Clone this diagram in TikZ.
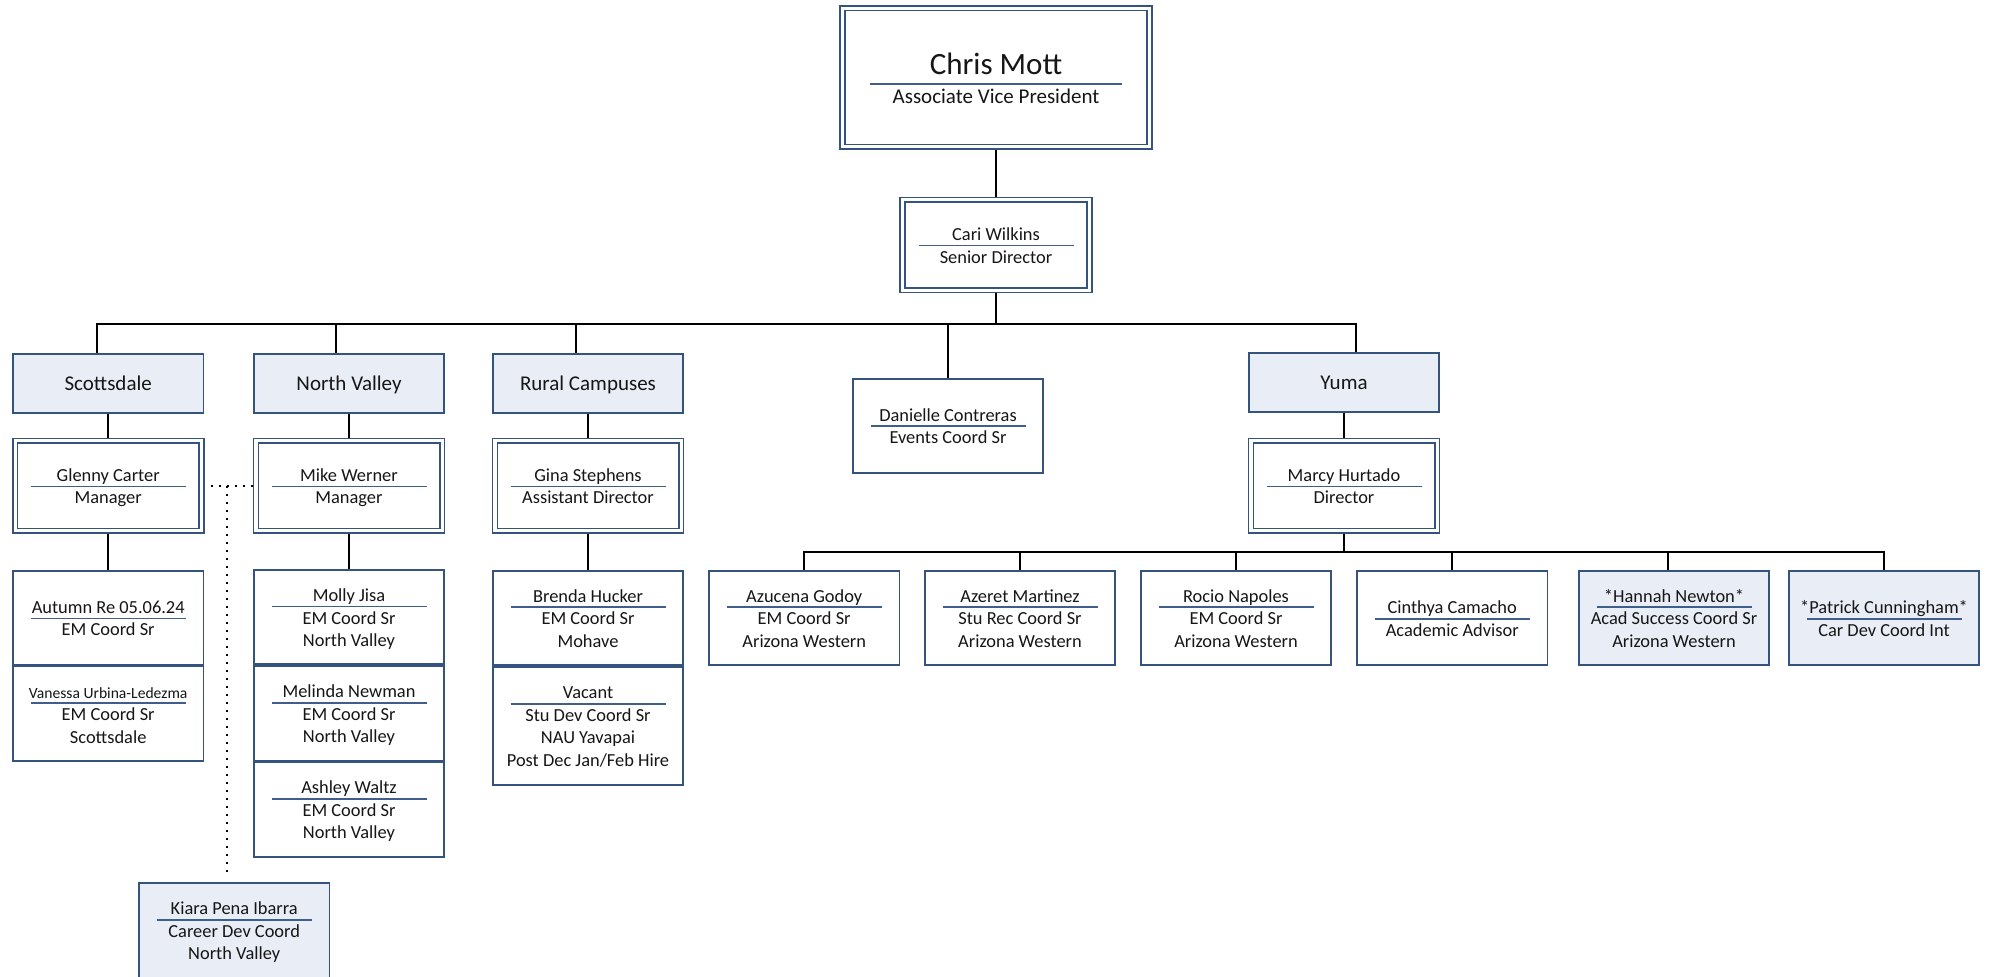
\documentclass[tikz,border=0pt]{standalone}
\usepackage{fontspec}
\setmainfont{Carlito}
\usetikzlibrary{calc}

\definecolor{bordc}{HTML}{35537F}
\definecolor{fillc}{HTML}{E9EDF5}
\definecolor{ulc}{HTML}{405E8C}
\definecolor{txtc}{HTML}{161616}

\newcommand\mystrut{\rule[-2.2pt]{0pt}{11.25pt}}
\newcommand\ulname[3]{\setbox0\hbox{#3}\rlap{\hbox to\wd0{\hss\smash{\textcolor{ulc}{\rule[#2]{#1}{0.9pt}}}\hss}}\box0}
\newcommand\nm[1]{\ulname{77.5pt}{-2.95pt}{#1}}
\newcommand\card[2]{\mystrut\nm{#1}\\#2\mystrut}

\begin{document}
\begin{tikzpicture}[x=0.5pt,y=-0.5pt,
    every node/.style={inner sep=0pt,align=center,text=txtc,font=\fontsize{9.2}{11.25}\selectfont},
    box/.style={draw=bordc,line width=0.95pt,fill=white,minimum width=95.3pt,minimum height=47.2pt},
    hdr/.style={box,fill=fillc,minimum height=29.55pt,font=\fontsize{10.5}{11.25}\selectfont},
    dbox/.style={draw=bordc,line width=0.8pt,double=white,double distance=1.6pt,fill=white,
        outer sep=1.6pt,minimum width=93.1pt,minimum height=45pt},
    link/.style={line width=1pt},
    dotln/.style={line width=1.1pt,dash pattern=on 1.1pt off 2.9pt}]
    \useasboundingbox (0,0) rectangle (1989,977);
    \clip (0,0) rectangle (1989,977);

    % top of the chart
    \node[dbox,minimum width=153.55pt,minimum height=69.35pt] (chris) at (996,77.5)
        {\rule{0pt}{12pt}\ulname{126pt}{-4.9pt}{\fontsize{15.5}{18}\selectfont Chris Mott}\\[3.25pt]
         \fontsize{10.5}{12}\selectfont Associate Vice President};
    \node[dbox,minimum width=93.35pt,minimum height=45.15pt] (cari) at (996,245) {\card{Cari Wilkins}{Senior Director}};

    % campuses
    \node[hdr] (scot) at (108.2,383.8) {\mystrut Scottsdale};
    \node[hdr] (nval) at (349,383.8) {\mystrut North Valley};
    \node[hdr] (rural) at (588,383.8) {\mystrut Rural Campuses};
    \node[hdr] (yuma) at (1344,382.5) {\mystrut Yuma};
    \node[box] (dan) at (948,425.8) {\card{Danielle Contreras}{Events Coord Sr}};

    \node[dbox] (glenny) at (108.2,485.9) {\card{Glenny Carter}{Manager}};
    \node[dbox] (mike) at (349,485.9) {\card{Mike Werner}{Manager}};
    \node[dbox] (gina) at (588,485.9) {\card{Gina Stephens}{Assistant Director}};
    \node[dbox] (marcy) at (1344,485.9) {\card{Marcy Hurtado}{Director}};

    % staff
    \node[box] (autumn) at (108.2,617.8) {\card{Autumn Re 05.06.24}{EM Coord Sr}};
    \node[box] (vanessa) at (108.2,713.7) {\card{{\fontsize{7.8}{9}\selectfont Vanessa Urbina-Ledezma}}{EM Coord Sr\\Scottsdale}};
    \node[box] (molly) at (349,617.2) {\card{Molly Jisa}{EM Coord Sr\\North Valley}};
    \node[box] (melinda) at (349,713.3) {\card{Melinda Newman}{EM Coord Sr\\North Valley}};
    \node[box] (ashley) at (349,809.5) {\card{Ashley Waltz}{EM Coord Sr\\North Valley}};
    \node[box] (brenda) at (588,618) {\card{Brenda Hucker}{EM Coord Sr\\Mohave}};
    \node[box,minimum height=58.9pt] (vacant) at (588,725.8) {\card{Vacant}{Stu Dev Coord Sr\\NAU Yavapai\\Post Dec Jan/Feb Hire}};
    \node[box,fill=fillc] (kiara) at (234.2,930.4) {\card{Kiara Pena Ibarra}{Career Dev Coord\\North Valley}};

    \node[box] (azucena) at (804.2,618) {\card{Azucena Godoy}{EM Coord Sr\\Arizona Western}};
    \node[box] (azeret) at (1020,618) {\card{Azeret Martinez}{Stu Rec Coord Sr\\Arizona Western}};
    \node[box] (rocio) at (1236,618) {\card{Rocio Napoles}{EM Coord Sr\\Arizona Western}};
    \node[box] (cinthya) at (1452.2,618) {\card{Cinthya Camacho}{Academic Advisor}};
    \node[box,fill=fillc] (hannah) at (1674,618) {\card{*Hannah Newton*}{Acad Success Coord Sr\\Arizona Western}};
    \node[box,fill=fillc] (patrick) at (1884,618) {\card{*Patrick Cunningham*}{Car Dev Coord Int}};

    % lines
    \coordinate (bus1) at (996,324);
    \coordinate (bus2) at (1344,551.7);
    \draw[link] (chris) -- (cari);
    \draw[link] (cari) -- (bus1);
    \foreach \n/\dx in {scot/-11.3,nval/-13,rural/-12,dan/0,yuma/12}
        \draw[link] (bus1) -| ($(\n.north)+(\dx,0)$);
    \foreach \a/\b in {scot/glenny,nval/mike,rural/gina,yuma/marcy,glenny/autumn,mike/molly,gina/brenda}
        \draw[link] (\a) -- (\b);
    \draw[link] (marcy) -- (bus2);
    \foreach \n/\dx in {azucena/0,azeret/0,rocio/0,cinthya/0,hannah/-6,patrick/0}
        \draw[link] (bus2) -| ($(\n.north)+(\dx,0)$);

    \coordinate (dotj) at (226.7,485.9);
    \draw[dotln] ($(glenny.east)+(6,0)$) -- (mike.west);
    \draw[dotln] (dotj) -- ($(dotj |- kiara.north)+(0,-8)$);
\end{tikzpicture}
\end{document}
